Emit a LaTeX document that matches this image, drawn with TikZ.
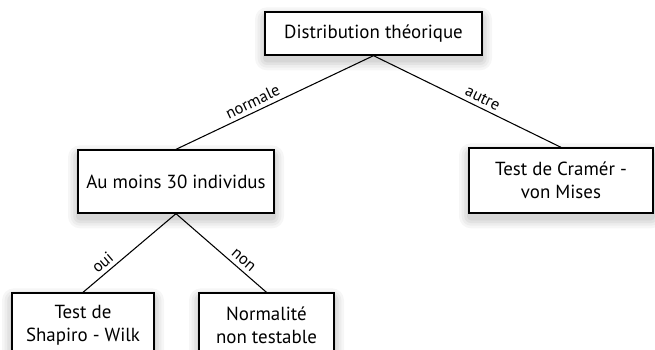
\documentclass[tikz,border=0pt]{standalone}
\usepackage{fontspec}
\setmainfont{PT Sans}
\usetikzlibrary{backgrounds}
\definecolor{shadeA}{RGB}{246,246,246}
\definecolor{shadeB}{RGB}{237,237,237}
\definecolor{shadeC}{RGB}{226,226,226}
\definecolor{shadeD}{RGB}{214,214,214}
\tikzset{
  decision/.style={
    draw=black,
    fill=white,
    rectangle,
    line width=1pt,
    align=center,
    inner sep=0pt,
    font=\fontsize{14.2}{17}\selectfont
  },
  branch/.style={draw=black,line width=0.8pt},
  answer/.style={font=\fontsize{12.3}{14}\selectfont,sloped,above,inner sep=3pt}
}
\begin{document}
\begin{tikzpicture}[x=0.75pt,y=-0.75pt]
  \useasboundingbox (0,0) rectangle (655,349);
  \clip (0,0) rectangle (655,349);

  % Decision nodes
  \node[decision,minimum width=162.75pt,minimum height=32.25pt] (dist) at (373.5,33.5)
    {Distribution théorique};
  \node[decision,minimum width=147pt,minimum height=47.25pt] (moins) at (176,181.5)
    {Au moins 30 individus};
  \node[decision,minimum width=138pt,minimum height=48.75pt] (cramer) at (561,180.5)
    {Test de Cramér -\\von Mises};
  \node[decision,minimum width=106.5pt,minimum height=48.75pt] (shapiro) at (83,325.5)
    {Test de\\Shapiro - Wilk};
  \node[decision,minimum width=101.25pt,minimum height=48.75pt] (nontest) at (266.5,325.5)
    {Normalité\\non testable};

  % Soft shadows behind the boxes
  \begin{pgfonlayer}{background}
    \foreach \boxname in {dist,moins,cramer,shapiro,nontest} {
      \fill[shadeA,rounded corners=9pt]
        ([xshift=-7pt,yshift=-11pt]\boxname.south west) rectangle ([xshift=7pt,yshift=3pt]\boxname.north east);
      \fill[shadeB,rounded corners=7pt]
        ([xshift=-5pt,yshift=-9pt]\boxname.south west) rectangle ([xshift=5pt,yshift=1pt]\boxname.north east);
      \fill[shadeC,rounded corners=5pt]
        ([xshift=-3pt,yshift=-7pt]\boxname.south west) rectangle ([xshift=3pt,yshift=-1pt]\boxname.north east);
      \fill[shadeD,rounded corners=3pt]
        ([xshift=-1pt,yshift=-5pt]\boxname.south west) rectangle ([xshift=1pt,yshift=-2pt]\boxname.north east);
    }
  \end{pgfonlayer}

  % Branches
  \draw[branch] (dist.south) -- node[answer,pos=0.59] {normale} (moins.north);
  \draw[branch] (dist.south) -- node[answer,pos=0.56] {autre} (cramer.north);
  \draw[branch] (moins.south) -- node[answer,pos=0.72] {oui} (shapiro.north);
  \draw[branch] (moins.south) -- node[answer,pos=0.68] {non} (nontest.north);
\end{tikzpicture}
\end{document}
